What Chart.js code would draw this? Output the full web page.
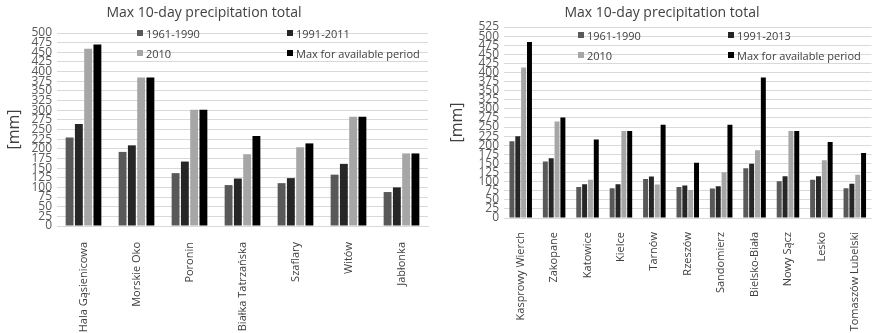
<!DOCTYPE html>
<html>
<head>
<meta charset="utf-8">
<script src="https://cdn.jsdelivr.net/npm/chart.js@4"></script>
<style>
    body   { margin: 0; background: #fff; font-family: 'Open Sans', sans-serif; }
    .panel { position: absolute; top: 0; height: 333px; }
    #tatraPanel  { left: 0;     width: 440px; }
    #regionPanel { left: 440px; width: 434px; }
    .title {
        position: absolute; top: 2px; transform: translateX(-50%);
        font-size: 14px; color: #404040; white-space: nowrap;
    }
    .legend {
        position: absolute; display: grid;
        grid-template-columns: 150px 150px; grid-auto-rows: 20px;
        font-size: 11px; color: #404040;
    }
    .legend div  { display: flex; align-items: center; white-space: nowrap; }
    .legend span { display: inline-block; width: 6px; height: 6px; margin-right: 3px; }
</style>
</head>
<body>

<div class="panel" id="tatraPanel">
    <canvas id="tatraChart" width="440" height="333"></canvas>
    <div class="title" style="left:204px">Max 10-day precipitation total</div>
    <div class="legend" id="tatraLegend" style="left:137px; top:23px"></div>
</div>

<div class="panel" id="regionPanel">
    <canvas id="regionChart" width="434" height="333"></canvas>
    <div class="title" style="left:222px">Max 10-day precipitation total</div>
    <div class="legend" id="regionLegend" style="left:138px; top:25px"></div>
</div>

<script>
// ── Data: Tatra stations ──────────────────────────────────

const tatraStations  = ['Hala Gąsienicowa', 'Morskie Oko', 'Poronin', 'Białka Tatrzańska', 'Szaflary', 'Witów', 'Jabłonka'];
const tatra1961_1990 = [229, 192, 137, 106, 111, 133, 88];
const tatra1991_2011 = [264, 209, 167, 123, 124, 161, 100];
const tatra2010      = [459, 385, 301, 186, 204, 283, 188];
const tatraMax       = [470, 385, 301, 233, 214, 283, 188];

// ── Data: other stations ──────────────────────────────────

const regionStations  = ['Kasprowy Wierch', 'Zakopane', 'Katowice', 'Kielce', 'Tarnów', 'Rzeszów',
                         'Sandomierz', 'Bielsko-Biała', 'Nowy Sącz', 'Lesko', 'Tomaszów Lubelski'];
const region1961_1990 = [211, 155, 85, 82, 107, 85, 81, 137, 101, 105, 82];
const region1991_2013 = [225, 164, 93, 93, 114, 89, 87, 149, 115, 115, 94];
const region2010      = [414, 265, 105, 239, 92, 77, 126, 186, 239, 159, 119];
const regionMax       = [484, 276, 216, 239, 256, 152, 256, 386, 239, 209, 179];

// ── Styling ───────────────────────────────────────────────

const seriesColors = ['#595959', '#262626', '#a6a6a6', '#000000'];
const gridColor    = '#d9d9d9';
const textColor    = '#404040';
const fontFamily   = "'Open Sans', sans-serif";

// ── Helpers ───────────────────────────────────────────────

function buildDatasets(labels, values) {
    return labels.map((label, i) => ({
        label,
        data: values[i],
        backgroundColor: seriesColors[i],
        categoryPercentage: 0.7,
        barPercentage: 0.85
    }));
}

function buildLegend(chart, containerId) {
    const box = document.getElementById(containerId);
    chart.data.datasets.forEach(ds => {
        const item = document.createElement('div');
        const sw   = document.createElement('span');
        sw.style.background = ds.backgroundColor;
        item.appendChild(sw);
        item.appendChild(document.createTextNode(ds.label));
        box.appendChild(item);
    });
}

function makeChart(canvasId, stations, datasets, yMax, fit) {
    const ctx = document.getElementById(canvasId).getContext('2d');
    return new Chart(ctx, {
        type: 'bar',
        data: { labels: stations, datasets },
        options: {
            responsive: false,
            animation: false,
            layout: { padding: { top: fit.top, right: fit.right, left: 0, bottom: 0 } },
            plugins: {
                legend:  { display: false },
                tooltip: { enabled: false }
            },
            scales: {
                x: {
                    grid:   { display: false },
                    border: { color: gridColor },
                    ticks:  {
                        autoSkip: false, minRotation: 90, maxRotation: 90, padding: fit.xPad,
                        color: textColor, font: { family: fontFamily, size: 11 }
                    },
                    afterFit(scale) { scale.height = fit.xHeight; }
                },
                y: {
                    min: 0,
                    max: yMax,
                    grid:   { color: gridColor, drawTicks: false },
                    border: { display: false },
                    ticks:  {
                        stepSize: 25, autoSkip: false, padding: 5,
                        color: '#595959', font: { family: fontFamily, size: 12 }
                    },
                    title: {
                        display: true, text: '[mm]', color: textColor,
                        font: { family: fontFamily, size: 16 },
                        padding: { top: fit.titlePad, bottom: 0 }
                    },
                    afterFit(scale) { scale.width = fit.yWidth; }
                }
            }
        }
    });
}

// ── Render ────────────────────────────────────────────────

const tatraChart = makeChart('tatraChart', tatraStations,
    buildDatasets(['1961-1990', '1991-2011', '2010', 'Max for available period'],
                  [tatra1961_1990, tatra1991_2011, tatra2010, tatraMax]),
    500, { top: 33, right: 12, xHeight: 107, yWidth: 57, titlePad: 5, xPad: 8 });

const regionChart = makeChart('regionChart', regionStations,
    buildDatasets(['1961-1990', '1991-2013', '2010', 'Max for available period'],
                  [region1961_1990, region1991_2013, region2010, regionMax]),
    525, { top: 27, right: 0, xHeight: 115, yWidth: 64, titlePad: 8, xPad: 6 });

buildLegend(tatraChart, 'tatraLegend');
buildLegend(regionChart, 'regionLegend');
</script>
</body>
</html>
